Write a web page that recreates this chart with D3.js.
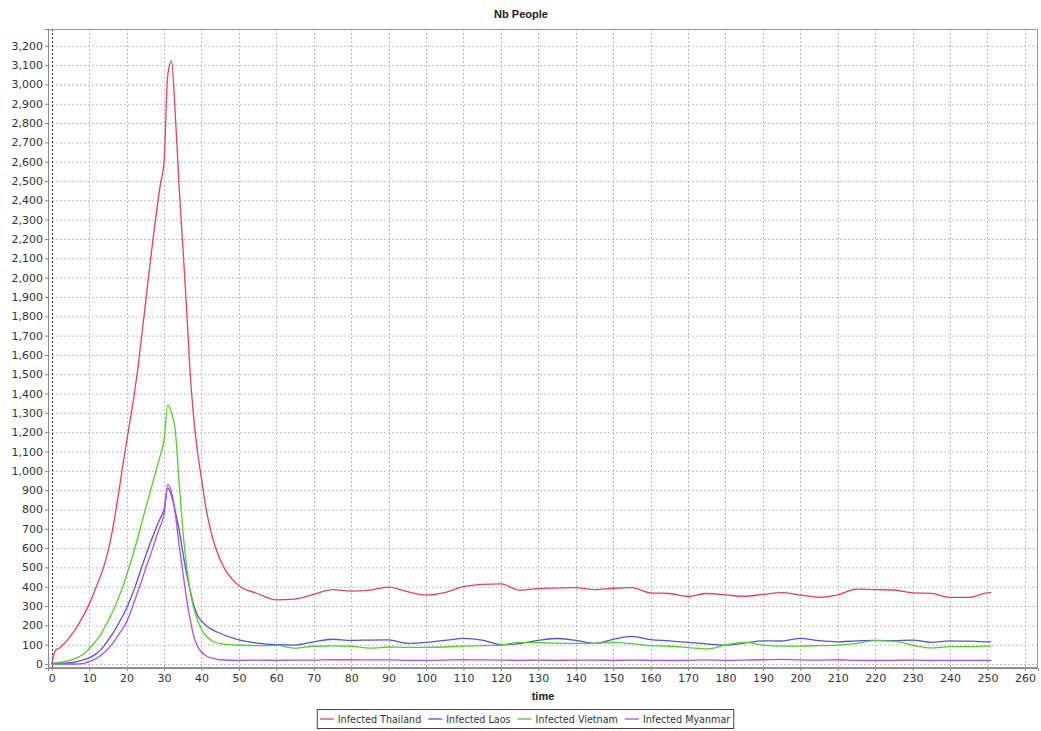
<!DOCTYPE html>
<html>
<head>
<meta charset="utf-8">
<script src="https://cdn.jsdelivr.net/npm/d3@7"></script>
<style>
  body { margin: 0; background: #fff; }
  svg { display: block; }
</style>
</head>
<body>
<svg id="chart"></svg>
<script>
// time steps: every step up to 45, then every 5
const time = [
  0, 1, 2, 3, 4, 5, 6, 7, 8, 9, 10, 11, 12, 13, 14, 15, 16, 17, 18, 19, 20,
  21, 22, 23, 24, 25, 26, 27, 28, 29, 30, 31, 32, 33, 34, 35, 36, 37, 38, 39, 40,
  41, 42, 43, 44, 45,
  50, 55, 60, 65, 70, 75, 80, 85, 90, 95, 100, 105, 110, 115, 120, 125, 130, 135, 140, 145,
  150, 155, 160, 165, 170, 175, 180, 185, 190, 195, 200, 205, 210, 215, 220, 225, 230, 235, 240, 245,
  250, 251
];

const thailand = [
  0, 70, 82, 100, 120, 145, 170, 200, 235, 270, 310, 355, 405, 455, 510, 580, 670, 780, 900, 1030, 1150,
  1270, 1390, 1530, 1690, 1860, 2030, 2190, 2340, 2480, 2600, 3050, 3120, 2850, 2480, 2170, 1850, 1500, 1260, 1090, 960,
  830, 730, 650, 590, 540,
  405, 365, 332, 336, 360, 385, 377, 382, 398, 375, 357, 370, 400, 412, 415, 382, 390, 393, 395, 385,
  392, 395, 368, 365, 350, 365, 358, 350, 360, 369, 357, 345, 358, 388, 385, 383, 368, 366, 345, 345,
  368, 369
];

const laos = [
  3, 4, 5, 5, 6, 8, 10, 14, 19, 25, 32, 42, 55, 72, 95, 122, 150, 180, 215, 250, 290,
  335, 385, 440, 500, 555, 610, 660, 710, 755, 800, 910, 870, 790, 700, 580, 470, 380, 300, 250, 222,
  203, 188, 177, 167, 158,
  125, 108, 100, 98, 115, 128, 122, 124, 125, 107, 112, 122, 133, 124, 100, 106, 122, 132, 122, 107,
  128, 143, 126, 120, 112, 104, 98, 108, 120, 119, 133, 121, 115, 120, 122, 121, 124, 112, 120, 118,
  115, 115
];

const vietnam = [
  0, 5, 8, 11, 15, 20, 26, 34, 45, 60, 80, 100, 125, 150, 185, 220, 260, 300, 350, 400, 460,
  520, 585, 655, 728, 800, 870, 940, 1010, 1080, 1160, 1340, 1300, 1210, 950, 700, 510, 375, 285, 225, 180,
  150, 132, 118, 110, 105,
  97, 95, 96, 82, 92, 94, 92, 82, 88, 86, 86, 88, 93, 95, 98, 112, 110, 108, 107, 107,
  112, 105, 95, 92, 85, 78, 98, 112, 98, 93, 93, 95, 98, 107, 121, 118, 97, 83, 90, 90,
  93, 93
];

const myanmar = [
  0, 0, 0, 0, 0, 0, 0, 0, 2, 6, 12, 20, 30, 43, 60, 78, 100, 125, 155, 185, 218,
  265, 320, 375, 430, 488, 545, 600, 660, 715, 775, 930, 890, 780, 620, 480, 340, 228, 140, 90, 62,
  45, 35, 29, 25, 22,
  19, 20, 19, 20, 20, 22, 22, 21, 21, 19, 19, 20, 22, 21, 20, 19, 20, 19, 20, 20,
  19, 20, 19, 18, 19, 21, 19, 20, 22, 24, 21, 20, 22, 19, 18, 19, 20, 18, 19, 19,
  18, 18
];

const seriesNames = ['Infected Thailand', 'Infected Laos', 'Infected Vietnam', 'Infected Myanmar'];
const seriesValues = [thailand, laos, vietnam, myanmar];
const seriesColors = ['#e8405f', '#5252e6', '#52d02c', '#b44ee6'];

const yTicks = d3.range(0, 3201, 100);
const xTicks = d3.range(0, 261, 10);

const width = 1041, height = 731;
const plot = { left: 48, top: 29, right: 1038, bottom: 668 };

const svg = d3.select('#chart').attr('width', width).attr('height', height);

const x = d3.scaleLinear().domain([-1, 263.5]).range([plot.left, plot.right]);
const y = d3.scaleLinear().domain([-20.7, 3287]).range([plot.bottom, plot.top]);

// plot background
svg.append('rect')
  .attr('x', plot.left).attr('y', plot.top)
  .attr('width', plot.right - plot.left).attr('height', plot.bottom - plot.top)
  .attr('fill', '#fff');

// grid
const grid = svg.append('g');
grid.selectAll('.hgrid')
  .data(yTicks)
  .enter()
  .append('line')
  .attr('x1', plot.left).attr('x2', plot.right)
  .attr('y1', d => y(d) + 0.5).attr('y2', d => y(d) + 0.5)
  .attr('stroke', '#bcbcbc')
  .attr('stroke-dasharray', '2,2');

grid.selectAll('.vgrid')
  .data(xTicks)
  .enter()
  .append('line')
  .attr('y1', plot.top).attr('y2', plot.bottom)
  .attr('x1', d => Math.round(x(d)) + 0.5).attr('x2', d => Math.round(x(d)) + 0.5)
  .attr('stroke', d => d === 0 ? '#222' : '#bcbcbc')
  .attr('stroke-dasharray', '2,2');

// plot outline
svg.append('rect')
  .attr('x', plot.left + 0.5).attr('y', plot.top + 0.5)
  .attr('width', plot.right - plot.left - 1).attr('height', plot.bottom - plot.top - 1)
  .attr('fill', 'none')
  .attr('stroke', '#9a9a9a');

// axes
const yAxis = svg.append('g')
  .attr('transform', `translate(${plot.left},0)`)
  .call(d3.axisLeft(y).tickValues(yTicks).tickFormat(d3.format(',')).tickSize(3).tickPadding(2));

const xAxis = svg.append('g')
  .attr('transform', `translate(0,${plot.bottom})`)
  .call(d3.axisBottom(x).tickValues(xTicks).tickSize(3).tickPadding(3));

[yAxis, xAxis].forEach(a => {
  a.select('.domain').attr('stroke', '#8a8a8a');
  a.selectAll('.tick line').attr('stroke', '#8a8a8a');
  a.selectAll('text')
    .style('font-family', 'DejaVu Sans, sans-serif')
    .style('font-size', '11px')
    .attr('fill', '#333');
});

// lines
const line = d3.line()
  .x(d => x(d[0]))
  .y(d => y(d[1]))
  .curve(d3.curveMonotoneX);

svg.append('g')
  .selectAll('path')
  .data(seriesValues)
  .enter()
  .append('path')
  .attr('d', vals => line(time.map((t, i) => [t, vals[i]])))
  .attr('fill', 'none')
  .attr('stroke', (_, i) => seriesColors[i])
  .attr('stroke-width', 1.3);

// title and axis label
svg.append('text')
  .attr('x', 521).attr('y', 18)
  .attr('text-anchor', 'middle')
  .style('font-family', 'Liberation Sans, Arial, sans-serif')
  .style('font-size', '11px')
  .style('font-weight', 'bold')
  .attr('fill', '#222')
  .text('Nb People');

svg.append('text')
  .attr('x', (plot.left + plot.right) / 2).attr('y', 700)
  .attr('text-anchor', 'middle')
  .style('font-family', 'Liberation Sans, Arial, sans-serif')
  .style('font-size', '11px')
  .style('font-weight', 'bold')
  .attr('fill', '#222')
  .text('time');

// legend
const legend = svg.append('g');
const legendBox = legend.append('rect')
  .attr('fill', '#fff')
  .attr('stroke', '#444');

let cursor = 0;
const items = legend.selectAll('.item')
  .data(seriesNames)
  .enter()
  .append('g');

items.each(function (name, i) {
  const g = d3.select(this);
  g.append('line')
    .attr('x1', cursor).attr('x2', cursor + 14)
    .attr('y1', 0).attr('y2', 0)
    .attr('stroke', seriesColors[i])
    .attr('stroke-width', 1.3);
  const txt = g.append('text')
    .attr('x', cursor + 18).attr('y', 4)
    .style('font-family', 'DejaVu Sans, sans-serif')
    .style('font-size', '9.6px')
    .attr('fill', '#333')
    .text(name);
  cursor += 18 + txt.node().getComputedTextLength() + 7;
});

const legendW = cursor - 7 + 6;
const legendX = 525 - legendW / 2;
items.attr('transform', `translate(${legendX + 3},719)`);
legendBox
  .attr('x', legendX + 0.5).attr('y', 709.5)
  .attr('width', legendW).attr('height', 19);
</script>
</body>
</html>
